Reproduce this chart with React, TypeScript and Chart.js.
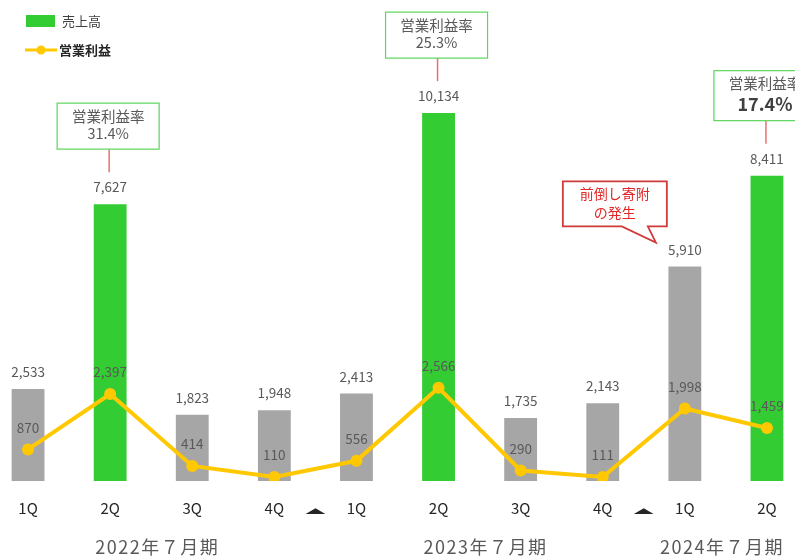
import React, { useEffect, useRef } from "react";
import { Chart, registerables } from "chart.js";

Chart.register(...registerables);

const categories = ["1Q", "2Q", "3Q", "4Q", "1Q", "2Q", "3Q", "4Q", "1Q", "2Q"];
const revenue = [2533, 7627, 1823, 1948, 2413, 10134, 1735, 2143, 5910, 8411];
const operatingProfit = [870, 2397, 414, 110, 556, 2566, 290, 111, 1998, 1459];
const marginIndices = [1, 5, 9];
const marginRates = ["31.4%", "25.3%", "17.4%"];
const marginTitle = "営業利益率";
const fiscalYears = ["2022年７月期", "2023年７月期", "2024年７月期"];
const fiscalYearStart = [0, 4, 8];
const fiscalYearEnd = [3, 7, 9];
const calloutIndex = 8;
const calloutLines = ["前倒し寄附", "の発生"];
const seriesNames = ["売上高", "営業利益"];

const GREEN = "#33CC33";
const GRAY = "#A6A6A6";
const YELLOW = "#FFC800";
const LABEL = "#595959";
const FONT = '"Noto Sans CJK JP", "Noto Sans", sans-serif';
const OFFSET = 13;

const barColors = categories.map((c, i) => (marginIndices.includes(i) ? GREEN : GRAY));
const fmt = (v: number) => v.toLocaleString("en-US");

const overlayPlugin = {
  id: "overlay",
  afterDatasetsDraw(chart: any) {
    const ctx: any = chart.ctx;
    const barMeta = chart.getDatasetMeta(0);
    const lineMeta = chart.getDatasetMeta(1);
    const bottom = chart.chartArea.bottom;
    ctx.save();
    ctx.textAlign = "center";
    ctx.textBaseline = "middle";

    // value labels
    ctx.fillStyle = LABEL;
    ctx.font = `13.5px ${FONT}`;
    revenue.forEach((v, i) => {
      const el = barMeta.data[i];
      ctx.fillText(fmt(v), el.x, el.y - 17);
    });
    operatingProfit.forEach((v, i) => {
      const pt = lineMeta.data[i];
      ctx.fillText(fmt(v), pt.x, pt.y - 22);
    });

    // category ticks
    ctx.fillStyle = "#262626";
    ctx.font = `15px ${FONT}`;
    categories.forEach((c, i) => {
      const el = barMeta.data[i];
      ctx.fillText(c, el.x, bottom + 27);
    });

    // triangles between fiscal years
    fiscalYearStart.forEach((s) => {
      if (s === 0) return;
      const x = (barMeta.data[s - 1].x + barMeta.data[s].x) / 2;
      ctx.save();
      ctx.translate(x, bottom + 30);
      ctx.scale(1.5, 0.5);
      ctx.fillStyle = "#262626";
      ctx.font = `14px ${FONT}`;
      ctx.fillText("▲", 0, 0);
      ctx.restore();
    });

    // fiscal year labels
    ctx.fillStyle = LABEL;
    ctx.font = `18px ${FONT}`;
    ctx.letterSpacing = "1.5px";
    const yearShift = [6, 6, -4];
    fiscalYears.forEach((label, k) => {
      const x = (barMeta.data[fiscalYearStart[k]].x + barMeta.data[fiscalYearEnd[k]].x) / 2 + yearShift[k];
      ctx.fillText(label, x, bottom + 66);
    });
    ctx.letterSpacing = "0px";

    // margin annotation boxes
    marginIndices.forEach((idx, k) => {
      const el = barMeta.data[idx];
      const cx = el.x - 2;
      const top = el.y;
      const big = k === marginIndices.length - 1;
      const boxBottom = top - 55;
      const boxH = big ? 50 : 46;
      const boxTop = boxBottom - boxH;
      ctx.strokeStyle = "#E87070";
      ctx.lineWidth = 1.5;
      ctx.beginPath();
      ctx.moveTo(el.x - 1, top - 32);
      ctx.lineTo(el.x - 1, boxBottom);
      ctx.stroke();
      ctx.fillStyle = "#FFFFFF";
      ctx.fillRect(cx - 51, boxTop, 102, boxH);
      ctx.strokeStyle = "#5CD65C";
      ctx.lineWidth = 1.2;
      ctx.strokeRect(cx - 51, boxTop, 102, boxH);
      ctx.fillStyle = LABEL;
      ctx.font = `14.5px ${FONT}`;
      ctx.fillText(marginTitle, cx, boxTop + 13);
      if (big) {
        ctx.fillStyle = "#404040";
        ctx.font = `bold 18px ${FONT}`;
        ctx.fillText(marginRates[k], cx, boxTop + 33);
      } else {
        ctx.fillText(marginRates[k], cx, boxTop + 30);
      }
    });

    // callout
    {
      const el = barMeta.data[calloutIndex];
      const x = el.x;
      const t = el.y;
      const l = x - 122, r = x - 18, tp = t - 85, bt = t - 40;
      ctx.beginPath();
      ctx.moveTo(l, tp);
      ctx.lineTo(r, tp);
      ctx.lineTo(r, bt);
      ctx.lineTo(x - 37, bt);
      ctx.lineTo(x - 29, t - 24);
      ctx.lineTo(x - 63, bt);
      ctx.lineTo(l, bt);
      ctx.closePath();
      ctx.fillStyle = "#FFFFFF";
      ctx.fill();
      ctx.strokeStyle = "#D03A3A";
      ctx.lineWidth = 1.8;
      ctx.stroke();
      ctx.fillStyle = "#E02828";
      ctx.font = `14px ${FONT}`;
      const cx = (l + r) / 2;
      ctx.fillText(calloutLines[0], cx, tp + 12);
      ctx.fillText(calloutLines[1], cx, tp + 31);
    }

    // legend
    ctx.textAlign = "left";
    ctx.fillStyle = GREEN;
    ctx.fillRect(26 + OFFSET, 15, 29, 12);
    ctx.fillStyle = "#404040";
    ctx.font = `13px ${FONT}`;
    ctx.fillText(seriesNames[0], 62 + OFFSET, 21);
    ctx.strokeStyle = YELLOW;
    ctx.lineWidth = 3;
    ctx.beginPath();
    ctx.moveTo(25 + OFFSET, 50);
    ctx.lineTo(57 + OFFSET, 50);
    ctx.stroke();
    ctx.fillStyle = YELLOW;
    ctx.beginPath();
    ctx.arc(41 + OFFSET, 50, 4.5, 0, Math.PI * 2);
    ctx.fill();
    ctx.fillStyle = "#262626";
    ctx.font = `bold 13px ${FONT}`;
    ctx.fillText(seriesNames[1], 59 + OFFSET, 50);

    ctx.restore();
  },
};

export default function App() {
  const ref = useRef<HTMLCanvasElement | null>(null);
  useEffect(() => {
    if (!ref.current) return;
    const chart = new Chart(ref.current, {
      type: "bar",
      data: {
        labels: categories,
        datasets: [
          {
            type: "bar",
            label: seriesNames[0],
            data: revenue,
            backgroundColor: barColors,
            barPercentage: 0.4,
            categoryPercentage: 1,
            order: 2,
          } as any,
          {
            type: "line",
            label: seriesNames[1],
            data: operatingProfit,
            borderColor: YELLOW,
            backgroundColor: YELLOW,
            borderWidth: 4,
            pointRadius: 6,
            pointBackgroundColor: YELLOW,
            pointBorderWidth: 0,
            tension: 0,
            order: 1,
          } as any,
        ],
      },
      options: {
        animation: false,
        responsive: false,
        events: [],
        layout: { autoPadding: false, padding: { top: 0, bottom: 75, left: 0, right: 0 } },
        plugins: { legend: { display: false }, tooltip: { enabled: false } },
        scales: {
          x: { display: false, offset: true, grid: { display: false } },
          y: { display: false, min: 0, max: 13250 },
        },
      } as any,
      plugins: [overlayPlugin],
    });
    return () => chart.destroy();
  }, []);
  return (
    <div style={{ position: "fixed", left: -OFFSET, top: 0, width: 821, height: 556, background: "#fff" }}>
      <canvas ref={ref} width={821} height={556} />
    </div>
  );
}
